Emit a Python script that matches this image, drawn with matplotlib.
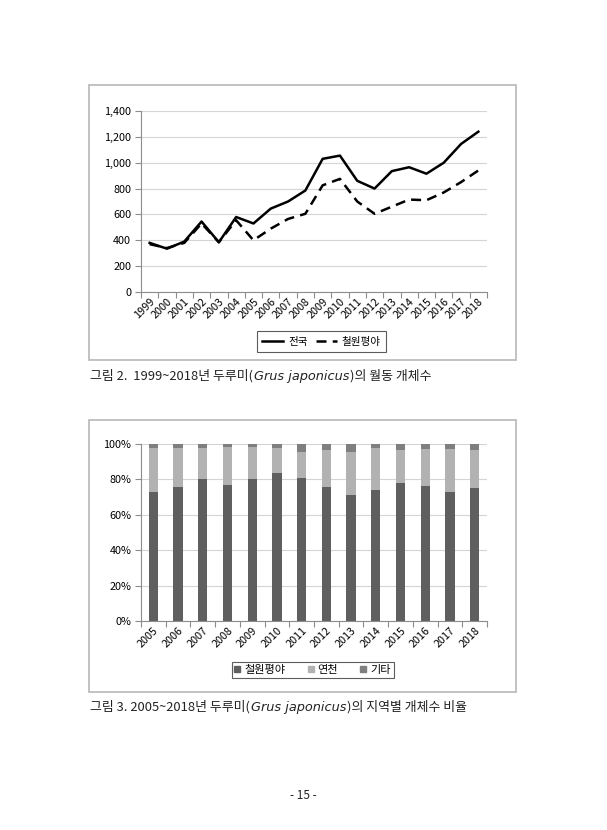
import matplotlib
matplotlib.use('Agg')
import matplotlib.pyplot as plt
from matplotlib.patches import Rectangle, Patch
from matplotlib.ticker import FuncFormatter
import numpy as np

plt.rcParams['font.family'] = ['Noto Sans CJK KR', 'DejaVu Sans']

W, H = 607, 830

# ---- data: figure 2 (wintering population) ----
years_all = [str(y) for y in range(1999, 2019)]
nationwide = [380, 335, 390, 545, 385, 580, 530, 645, 700, 785,
              1030, 1055, 860, 800, 935, 965, 915, 1000, 1145, 1240]
cheorwon = [370, 340, 380, 530, 385, 555, 400, 490, 565, 605,
            825, 875, 700, 605, 660, 715, 710, 770, 850, 940]

# ---- data: figure 3 (regional share, %) ----
years_share = [str(y) for y in range(2005, 2019)]
share_cheorwon = [72.8, 75.8, 80.4, 76.6, 80.4, 83.8, 81.0,
                  75.5, 71.1, 74.1, 77.7, 76.2, 72.6, 75.3]
share_yeoncheon = [24.7, 22.1, 17.3, 21.7, 17.9, 13.7, 14.3,
                   21.1, 24.5, 23.4, 19.1, 21.0, 24.6, 21.1]
share_other = [2.5, 2.1, 2.3, 1.7, 1.7, 2.5, 4.7,
               3.4, 4.4, 2.5, 3.2, 2.8, 2.8, 3.6]

fig = plt.figure(figsize=(W / 100, H / 100), dpi=100)
fig.patch.set_facecolor('white')


def px_axes(l, t, r, b):
    return fig.add_axes([l / W, 1 - b / H, (r - l) / W, (b - t) / H])


def px_frame(l, t, r, b):
    fig.add_artist(Rectangle((l / W, 1 - b / H), (r - l) / W, (b - t) / H,
                             transform=fig.transFigure, fill=False,
                             ec='#bdbdbd', lw=1.3))


def style_axes(ax, n):
    for s in ['top', 'right']:
        ax.spines[s].set_visible(False)
    for s in ['left', 'bottom']:
        ax.spines[s].set_color('#8c8c8c')
        ax.spines[s].set_linewidth(0.8)
    ax.grid(axis='y', color='#d4d4d4', lw=0.8)
    ax.set_axisbelow(True)
    ax.set_xlim(-0.5, n - 0.5)
    # tick marks between categories, labels at the centres
    ax.set_xticks(np.arange(-0.5, n, 1))
    ax.set_xticklabels([''] * (n + 1))
    ax.tick_params(axis='x', which='major', length=4, color='#8c8c8c')
    ax.tick_params(axis='y', length=4, color='#8c8c8c', labelsize=7.8, pad=3)
    ax.tick_params(axis='x', which='minor', length=0, labelsize=7.8, pad=3)


def caption(x_px, y_px, pieces, size=9.3):
    renderer = fig.canvas.get_renderer()
    x = x_px
    for s, italic in pieces:
        if italic:
            t = fig.text(x / W, 1 - y_px / H, s, va='center', ha='left',
                         fontsize=size, family='DejaVu Sans', style='italic',
                         color='#222222')
        else:
            t = fig.text(x / W, 1 - y_px / H, s, va='center', ha='left',
                         fontsize=size, color='#222222')
        x += t.get_window_extent(renderer).width + 1


# ---------- figure 2: line chart ----------
px_frame(89, 85, 516, 360)
ax1 = px_axes(141, 111, 487, 292)
style_axes(ax1, len(years_all))
x1 = np.arange(len(years_all))
ax1.plot(x1, nationwide, color='black', lw=1.8, label='전국')
ax1.plot(x1, cheorwon, color='black', lw=1.8, ls=(0, (4, 2.5)), label='철원평야')
ax1.set_ylim(0, 1400)
ax1.set_yticks(range(0, 1401, 200))
ax1.yaxis.set_major_formatter(FuncFormatter(lambda v, p: f'{v:,.0f}'))
ax1.set_xticks(x1, years_all, minor=True)
plt.setp(ax1.get_xticklabels(minor=True), rotation=45, ha='right',
         rotation_mode='anchor')
leg1 = ax1.legend(loc='center', bbox_to_anchor=(321.5 / W, 1 - 341.5 / H),
                  bbox_transform=fig.transFigure, ncol=2, fontsize=7.6,
                  frameon=True, fancybox=False, edgecolor='#333333',
                  handlelength=2.0, columnspacing=0.8, borderpad=0.5,
                  handletextpad=0.45)
leg1.get_frame().set_linewidth(0.8)

caption(90, 376, [('그림 2.  1999~2018년 두루미(', False),
                  ('Grus japonicus', True),
                  (')의 월동 개체수', False)])

# ---------- figure 3: stacked bar chart ----------
px_frame(89, 420, 516, 692)
ax2 = px_axes(141, 444, 487, 621)
style_axes(ax2, len(years_share))
x2 = np.arange(len(years_share))
c1, c2, c3 = '#5f5f5f', '#b2b2b2', '#7f7f7f'
bw = 0.38
ax2.bar(x2, share_cheorwon, bw, color=c1, label='철원평야')
ax2.bar(x2, share_yeoncheon, bw, bottom=share_cheorwon, color=c2, label='연천')
ax2.bar(x2, share_other, bw,
        bottom=np.array(share_cheorwon) + np.array(share_yeoncheon),
        color=c3, label='기타')
ax2.set_ylim(0, 100)
ax2.set_yticks(range(0, 101, 20))
ax2.yaxis.set_major_formatter(FuncFormatter(lambda v, p: f'{v:.0f}%'))
ax2.set_xticks(x2, years_share, minor=True)
plt.setp(ax2.get_xticklabels(minor=True), rotation=45, ha='right',
         rotation_mode='anchor')
handles = [Patch(color=c1), Patch(color=c2), Patch(color=c3)]
leg2 = ax2.legend(handles, ['철원평야', '연천', '기타'], loc='center',
                  bbox_to_anchor=(312.5 / W, 1 - 670 / H),
                  bbox_transform=fig.transFigure, ncol=3, fontsize=8,
                  frameon=True, fancybox=False, edgecolor='#333333',
                  handlelength=0.55, handleheight=0.55, columnspacing=2.0,
                  borderpad=0.25, handletextpad=0.35, borderaxespad=0)
leg2.get_frame().set_linewidth(0.8)

caption(90, 707, [('그림 3. 2005~2018년 두루미(', False),
                  ('Grus japonicus', True),
                  (')의 지역별 개체수 비율', False)])

fig.text(303 / W, 1 - 795 / H, '- 15 -', ha='center', va='center',
         fontsize=8.5, color='#222222')

fig.savefig('out.png', dpi=100, facecolor='white')
